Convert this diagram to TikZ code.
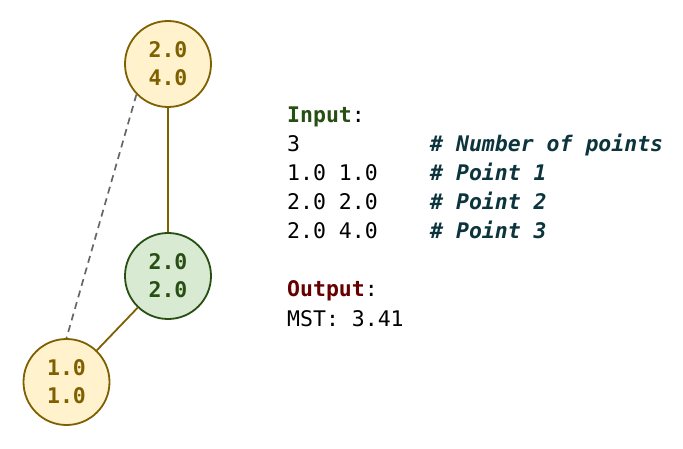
\documentclass[tikz,border=0pt]{standalone}
\usepackage{fontspec}
\setmonofont{DejaVu Sans Mono}
\definecolor{goldline}{HTML}{7F6000}
\definecolor{goldfill}{HTML}{FFF2CC}
\definecolor{greenline}{HTML}{274E13}
\definecolor{greenfill}{HTML}{D9EAD3}
\definecolor{outred}{HTML}{660000}
\definecolor{cmtteal}{HTML}{0C343D}
\definecolor{dashgray}{HTML}{666666}

\begin{document}
\begin{tikzpicture}[x=1pt, y=-1pt,
	ptnode/.style={circle, draw=goldline, fill=goldfill, text=goldline, line width=1.8pt,
		minimum size=86pt, inner sep=0pt, align=center,
		font=\ttfamily\bfseries\fontsize{21.5}{28}\selectfont},
	mstnode/.style={ptnode, draw=greenline, fill=greenfill, text=greenline},
	treeedge/.style={draw=goldline, line width=1.8pt},
	skipedge/.style={draw=dashgray, line width=1.7pt, dash pattern=on 7pt off 5pt},
	codeline/.style={anchor=base west, inner sep=0pt, font=\ttfamily\fontsize{21.5}{28}\selectfont},
	cmtline/.style={codeline, text=cmtteal, font=\ttfamily\bfseries\itshape\fontsize{21.5}{28}\selectfont}]

	\useasboundingbox (0,0) rectangle (683,449);

	% points
	\node[ptnode] (p24) at (168,64) {2.0\\4.0};
	\node[mstnode] (p22) at (168,276) {2.0\\2.0};
	\node[ptnode] (p11) at (66.5,382) {1.0\\1.0};

	\draw[treeedge] (p24) -- (p22);
	\draw[treeedge] (p22) -- (p11);
	\draw[skipedge] (p24.224) -- (p11.north);

	% input / output text
	\node[codeline] (inlabel) at (287,123) {\textcolor{greenline}{\bfseries Input}:};
	\node[codeline] (incount) at (287,152) {3};
	\node[codeline] (inpa) at (287,181) {1.0 1.0};
	\node[codeline] (inpb) at (287,210) {2.0 2.0};
	\node[codeline] (inpc) at (287,239) {2.0 4.0};
	\node[cmtline] (cmtcount) at (430,152) {\# Number of points};
	\node[cmtline] (cmtpa) at (430,181) {\# Point 1};
	\node[cmtline] (cmtpb) at (430,210) {\# Point 2};
	\node[cmtline] (cmtpc) at (430,239) {\# Point 3};
	\node[codeline] (outlabel) at (287,297) {\textcolor{outred}{\bfseries Output}:};
	\node[codeline] (outmst) at (287,326) {MST: 3.41};
\end{tikzpicture}
\end{document}
